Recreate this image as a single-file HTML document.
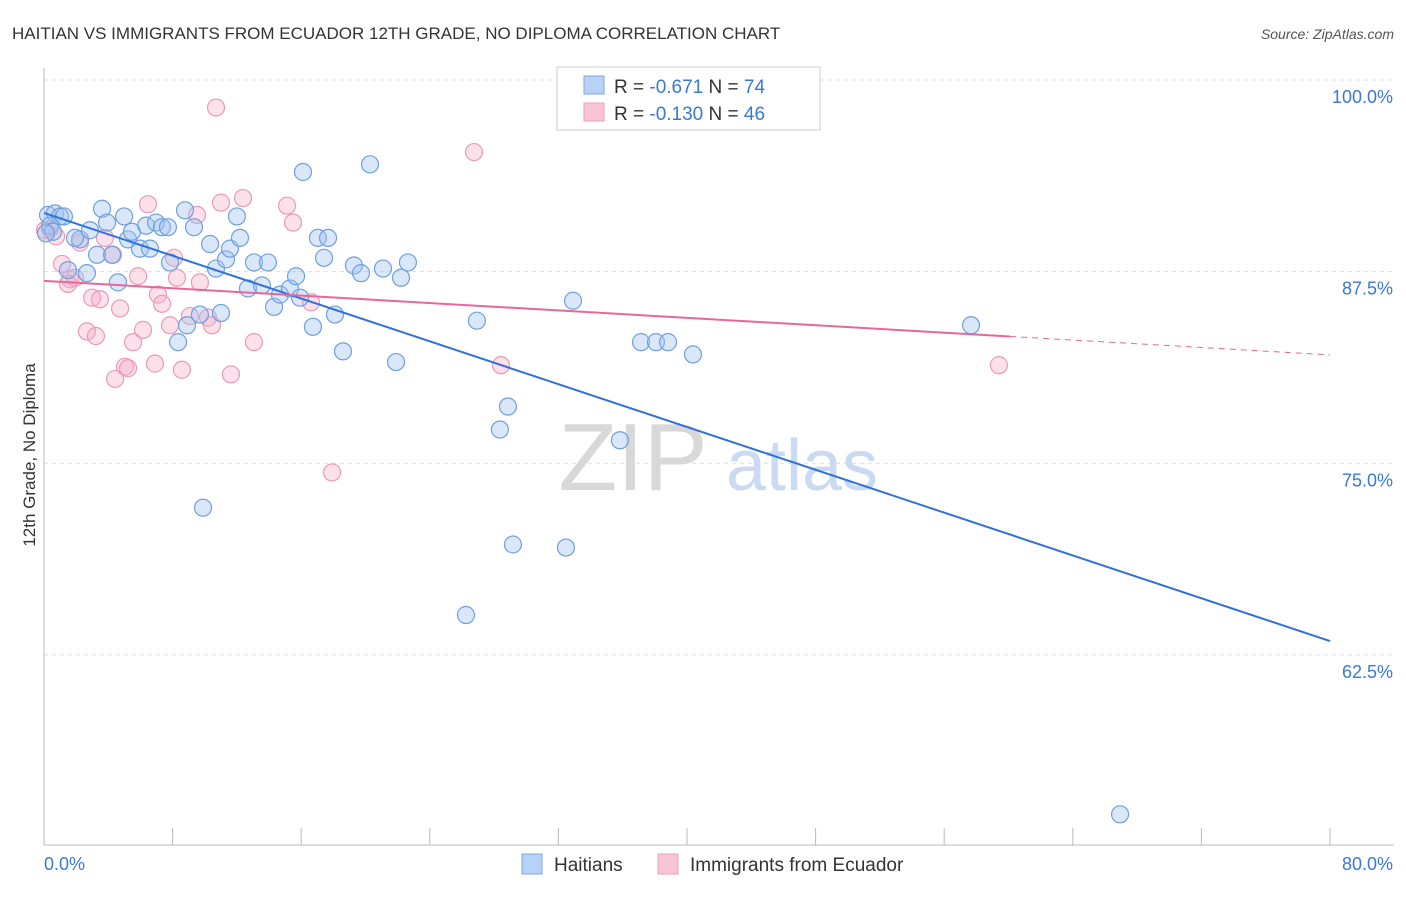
<!DOCTYPE html>
<html><head><meta charset="utf-8">
<style>
body{margin:0;background:#fff;font-family:"Liberation Sans",sans-serif;}
svg text{font-family:"Liberation Sans",sans-serif;}
</style></head>
<body>
<svg id="chart" width="1406" height="892" xmlns="http://www.w3.org/2000/svg">
<text x="12" y="39" font-size="17" fill="#333">HAITIAN VS IMMIGRANTS FROM ECUADOR 12TH GRADE, NO DIPLOMA CORRELATION CHART</text>
<text x="1394" y="39" font-size="14" fill="#555" text-anchor="end" font-style="italic">Source: ZipAtlas.com</text>
<g id="grid"></g>
<g>
<text x="633" y="490" font-size="96" fill="#d8d8d8" font-family="Liberation Serif" text-anchor="middle">ZIP</text>
<text x="802" y="490" font-size="72" fill="#c9daf2" text-anchor="middle">atlas</text>
</g>
<g id="pts"></g>
<g id="trend"></g>
<text transform="translate(35,455) rotate(-90)" font-size="17" fill="#333" text-anchor="middle">12th Grade, No Diploma</text>
<g>
<rect x="557" y="67" width="263" height="63" fill="#fff" stroke="#ccc"/>
<rect x="584" y="76" width="20" height="18" fill="#b8d2f5" stroke="#7aaae6"/>
<rect x="584" y="103" width="20" height="18" fill="#f9c4d6" stroke="#eba0bb"/>
<text x="614" y="93" font-size="19" fill="#333">R = <tspan fill="#3a78d8">-0.671</tspan>   N = <tspan fill="#3a78d8">74</tspan></text>
<text x="614" y="120" font-size="19" fill="#333">R = <tspan fill="#3a78d8">-0.130</tspan>   N = <tspan fill="#3a78d8">46</tspan></text>
</g>
<g>
<rect x="522" y="854" width="20" height="20" fill="#b8d2f5" stroke="#7aaae6"/>
<text x="554" y="871" font-size="19" fill="#333">Haitians</text>
<rect x="658" y="854" width="20" height="20" fill="#f9c4d6" stroke="#eba0bb"/>
<text x="690" y="871" font-size="19" fill="#333">Immigrants from Ecuador</text>
</g>
</svg>
<script>
const xTicks=[0,8,16,24,32,40,48,56,64,72,80];
const yTicks=[100,87.5,75,62.5];
const yTickLabels=["100.0%","87.5%","75.0%","62.5%"];
const haitiansX=[0.25,0.68,1.0,1.24,0.37,0.56,0.12,2.24,1.93,2.86,3.30,3.61,3.92,4.23,4.60,4.98,5.23,5.47,5.97,6.35,6.59,6.97,7.34,7.71,7.84,8.34,8.77,8.90,9.33,9.70,9.89,10.33,10.70,11.01,11.32,11.57,12.0,12.19,12.69,13.06,13.56,13.93,14.31,14.68,15.30,15.68,15.93,16.11,16.73,17.04,17.42,17.67,18.10,18.60,19.28,19.72,20.28,21.09,21.90,22.21,22.64,26.93,28.36,28.86,29.17,26.25,32.47,32.91,35.83,37.14,38.07,38.82,40.37,57.67,66.94,2.67,1.49];
const haitiansY=[91.2,91.3,91.1,91.1,90.5,90.1,90.0,89.6,89.7,90.2,88.6,91.6,90.7,88.6,86.8,91.1,89.6,90.1,89.0,90.5,89.0,90.7,90.4,90.4,88.1,82.9,91.5,84.0,90.4,84.7,72.1,89.3,87.7,84.8,88.3,89.0,91.1,89.7,86.4,88.1,86.6,88.1,85.2,86.0,86.4,87.2,85.8,94.0,83.9,89.7,88.4,89.7,84.7,82.3,87.9,87.4,94.5,87.7,81.6,87.1,88.1,84.3,77.2,78.7,69.7,65.1,69.5,85.6,76.5,82.9,82.9,82.9,82.1,84.0,52.1,87.4,87.6];
const ecuadorX=[10.70,26.75,12.38,11.01,6.47,15.12,9.52,15.49,0.37,0.75,2.24,3.79,4.29,1.12,8.09,1.62,1.93,1.49,5.85,8.27,9.70,2.99,3.48,7.09,7.34,16.61,4.73,9.08,10.20,10.45,7.84,6.16,2.67,3.23,5.54,13.06,6.90,5.04,5.23,8.58,4.42,11.63,28.43,17.92,59.40,0.06];
const ecuadorY=[98.2,95.3,92.3,92.0,91.9,91.8,91.2,90.7,90.3,89.8,89.4,89.7,88.6,88.0,88.4,87.0,87.1,86.7,87.2,87.1,86.8,85.8,85.7,86.0,85.4,85.5,85.1,84.6,84.5,84.0,84.0,83.7,83.6,83.3,82.9,82.9,81.5,81.3,81.2,81.1,80.5,80.8,81.4,74.4,81.4,90.2];
const haitiansTrend=[91.33,63.4];
const ecuadorTrend=[86.9,82.07];
const ecuadorSolidEnd=60.1;

const NS="http://www.w3.org/2000/svg";
const X=v=>44+v/80*1286;
const Y=v=>80+(100-v)*15.33;
function mk(tag,attrs,parent){const e=document.createElementNS(NS,tag);for(const k in attrs)e.setAttribute(k,attrs[k]);parent.appendChild(e);return e;}
const grid=document.getElementById('grid');
yTicks.forEach((t,i)=>{
  const l=mk('line',{x1:44,x2:1394,y1:Y(t),y2:Y(t),stroke:'#ddd','stroke-dasharray':'4,4'},grid);
  
  
  const tx=mk('text',{x:1393,y:Y(t)+23,'font-size':18,fill:'#3a78d8','text-anchor':'end'},grid);
  tx.textContent=yTickLabels[i];
  
  
});
mk('line',{x1:44,x2:44,y1:68,y2:845,stroke:'#bbb'},grid);
mk('line',{x1:44,x2:1394,y1:845,y2:845,stroke:'#bbb'},grid);
xTicks.forEach(t=>{
  const l=mk('line',{x1:X(t),x2:X(t),y1:828,y2:845,stroke:'#bbb'},grid);
  
  
});
const xl0=mk('text',{x:44,y:870,'font-size':18,fill:'#3a78d8'},grid);xl0.textContent=xTicks[0].toFixed(1)+'%';


const xl1=mk('text',{x:1393,y:870,'font-size':18,fill:'#3a78d8','text-anchor':'end'},grid);xl1.textContent=xTicks[xTicks.length-1].toFixed(1)+'%';



const pts=document.getElementById('pts');
ecuadorX.forEach((x,i)=>{
  const c=mk('circle',{cx:X(x),cy:Y(ecuadorY[i]),r:8.5,fill:'rgba(245,170,198,0.35)',stroke:'#eb9ab8','stroke-width':1.2},pts);
  
  
});
haitiansX.forEach((x,i)=>{
  const c=mk('circle',{cx:X(x),cy:Y(haitiansY[i]),r:8.5,fill:'rgba(160,196,240,0.4)',stroke:'#6fa0e0','stroke-width':1.2},pts);
  
  
});
const tr=document.getElementById('trend');
const b=mk('line',{x1:X(0),y1:Y(haitiansTrend[0]),x2:X(80),y2:Y(haitiansTrend[1]),stroke:'#2f72dc','stroke-width':2},tr);


const pe=v=>ecuadorTrend[0]+(ecuadorTrend[1]-ecuadorTrend[0])*v/80;
const p=mk('line',{x1:X(0),y1:Y(pe(0)),x2:X(ecuadorSolidEnd),y2:Y(pe(ecuadorSolidEnd)),stroke:'#e8679a','stroke-width':2},tr);


const pd=mk('line',{x1:X(ecuadorSolidEnd),y1:Y(pe(ecuadorSolidEnd)),x2:X(80),y2:Y(pe(80)),stroke:'#e8679a','stroke-width':1,'stroke-dasharray':'6,5'},tr);


</script>
</body></html>
